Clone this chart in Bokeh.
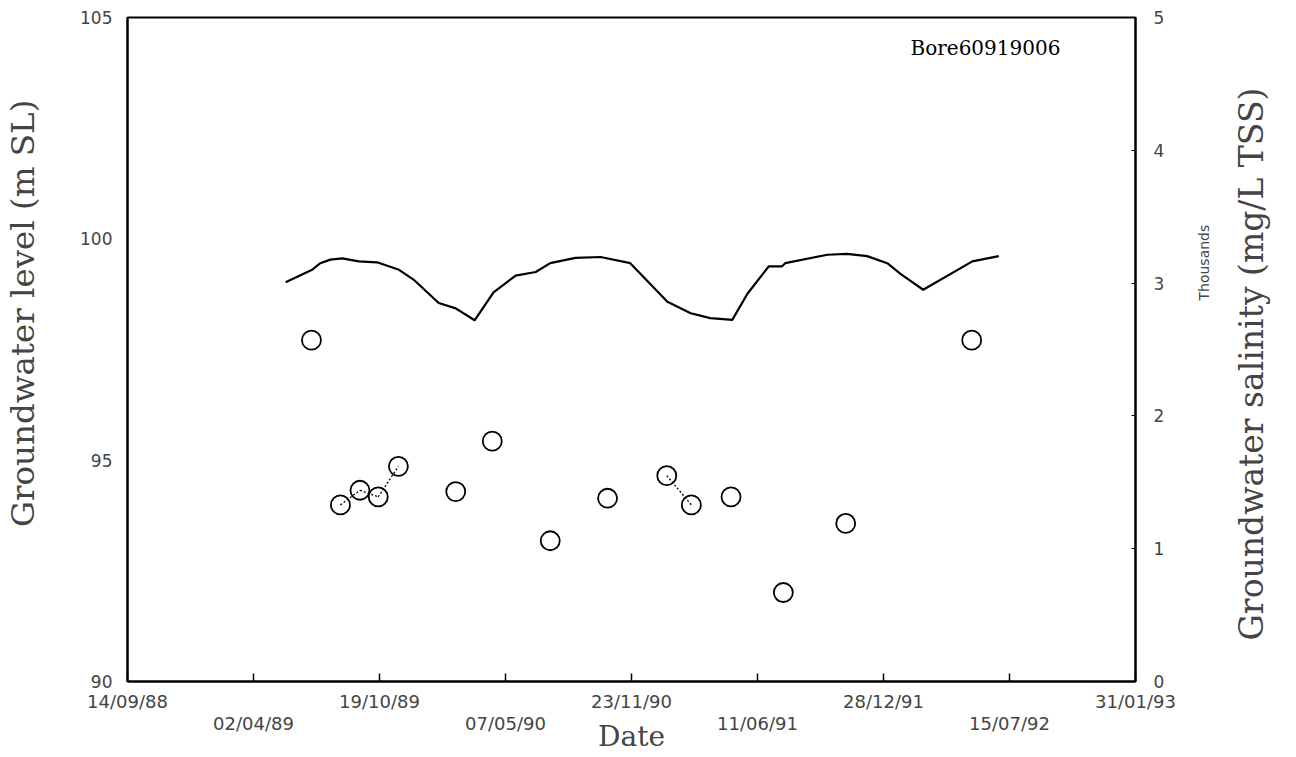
import pandas as pd
from math import pi
from bokeh.plotting import figure
from bokeh.models import Range1d, LinearAxis, FixedTicker, Label
from bokeh.embed import file_html
from bokeh.resources import INLINE

# ---------------- data ----------------
start_date = "1988-09-14"
tick_step_days = 200
n_ticks = 9

level_dates = [
    "1989-05-23", "1989-07-04", "1989-07-17", "1989-08-02", "1989-08-21",
    "1989-09-16", "1989-10-15", "1989-11-19", "1989-12-12", "1990-01-21",
    "1990-02-17", "1990-03-19", "1990-04-18", "1990-05-23", "1990-06-24",
    "1990-07-17", "1990-08-26", "1990-10-05", "1990-11-21", "1991-01-19",
    "1991-02-25", "1991-03-28", "1991-05-02", "1991-05-26", "1991-06-29",
    "1991-07-20", "1991-07-25", "1991-09-30", "1991-10-31", "1991-12-02",
    "1992-01-03", "1992-01-24", "1992-02-29", "1992-05-17", "1992-06-28",
]
level_values = [
    99.02, 99.30, 99.45, 99.53, 99.56,
    99.49, 99.47, 99.30, 99.08, 98.55,
    98.43, 98.16, 98.79, 99.17, 99.25,
    99.45, 99.57, 99.59, 99.45, 98.58,
    98.32, 98.21, 98.17, 98.76, 99.38,
    99.38, 99.45, 99.64, 99.66, 99.61,
    99.45, 99.21, 98.85, 99.49, 99.61,
]

salinity_dates = [
    "1989-07-03", "1989-08-18", "1989-09-18", "1989-10-17", "1989-11-18",
    "1990-02-17", "1990-04-16", "1990-07-17", "1990-10-16", "1991-01-18",
    "1991-02-26", "1991-04-30", "1991-07-22", "1991-10-29", "1992-05-16",
]
salinity_thousands = [
    2.57, 1.33, 1.44, 1.39, 1.62,
    1.43, 1.81, 1.06, 1.38, 1.55,
    1.33, 1.39, 0.67, 1.19, 2.57,
]
connect_max_gap_days = 42

left_ticks = [90, 95, 100, 105]
right_ticks = [0, 1, 2, 3, 4, 5]

left_title = "Groundwater level (m SL)"
right_title = "Groundwater salinity (mg/L TSS)"
right_units = "Thousands"
x_title = "Date"
bore_name = "Bore60919006"

# ---------------- derived ----------------
t0 = pd.Timestamp(start_date)
lx = list((pd.to_datetime(level_dates) - t0).days)
sx = list((pd.to_datetime(salinity_dates) - t0).days)
tick_days = [i * tick_step_days for i in range(n_ticks)]
tick_labels = [(t0 + pd.Timedelta(days=d)).strftime("%d/%m/%y") for d in tick_days]
x_end = tick_days[-1]

W, H = 1296, 757
BL, BR, BT, BB = 127, 161, 17, 76
FW, FH = W - BL - BR, H - BT - BB


def cx(px):
    return (px - BL) / FW * x_end


def cy(py):
    return left_ticks[-1] - (py - BT) / FH * (left_ticks[-1] - left_ticks[0])


def cy_sal(py):
    return right_ticks[-1] - (py - BT) / FH * (right_ticks[-1] - right_ticks[0])


p = figure(width=W, height=H, x_range=Range1d(0, x_end),
           y_range=Range1d(left_ticks[0], left_ticks[-1]),
           output_backend="svg", toolbar_location=None,
           x_axis_location=None, y_axis_location=None,
           min_border_left=BL, min_border_right=BR,
           min_border_top=BT, min_border_bottom=BB)
p.extra_y_ranges = {"sal": Range1d(right_ticks[0], right_ticks[-1])}
p.grid.visible = False
p.outline_line_color = "black"
p.outline_line_width = 2
p.background_fill_color = "white"
p.border_fill_color = "white"

tick_font = "DejaVu Sans"
serif = "DejaVu Serif"


def blank_axis(**kw):
    return LinearAxis(major_tick_in=0, major_tick_out=0, minor_tick_in=0,
                      minor_tick_out=0, axis_line_color=None, **kw)


# leading no-break spaces lift the (bottom-to-top) title above the frame centre
left = LinearAxis(ticker=FixedTicker(ticks=left_ticks),
                  axis_label="\u00a0" * 7 + left_title,
                  axis_label_text_font=serif, axis_label_text_font_size="32.5px",
                  axis_label_text_font_style="normal", axis_label_standoff=35,
                  major_label_text_font=tick_font, major_label_text_font_size="17px",
                  major_label_standoff=15, major_tick_in=0, major_tick_out=0,
                  minor_tick_in=0, minor_tick_out=0,
                  axis_line_width=2, axis_line_color="black")
p.add_layout(left, "left")

right = LinearAxis(y_range_name="sal", ticker=FixedTicker(ticks=right_ticks),
                   major_label_text_font=tick_font, major_label_text_font_size="17px",
                   major_label_standoff=18, major_tick_in=4, major_tick_out=0,
                   minor_tick_in=0, minor_tick_out=0,
                   axis_line_width=2, axis_line_color="black")
p.add_layout(right, "right")

# rotated right-hand texts drawn as single tick labels (anchored at text start)
y_th = cy_sal(300)
right_u = blank_axis(y_range_name="sal", ticker=FixedTicker(ticks=[y_th]),
                     major_label_overrides={y_th: right_units},
                     major_label_orientation=pi / 2, major_label_standoff=36,
                     major_label_text_font=tick_font, major_label_text_font_size="14px")
p.add_layout(right_u, "right")

y_rt = cy_sal(640)
right_t = blank_axis(y_range_name="sal", ticker=FixedTicker(ticks=[y_rt]),
                     major_label_overrides={y_rt: right_title},
                     major_label_orientation=pi / 2, major_label_standoff=29,
                     major_label_text_font=serif, major_label_text_font_size="33px")
p.add_layout(right_t, "right")

over1 = {d: (lab if i % 2 == 0 else "") for i, (d, lab) in enumerate(zip(tick_days, tick_labels))}
bottom1 = LinearAxis(ticker=FixedTicker(ticks=tick_days), major_label_overrides=over1,
                     major_label_text_font=tick_font, major_label_text_font_size="18px",
                     major_label_standoff=9, major_tick_in=8, major_tick_out=0,
                     major_tick_line_width=1.5,
                     minor_tick_in=0, minor_tick_out=0,
                     axis_line_width=2, axis_line_color="black")
p.add_layout(bottom1, "below")

odd_days = [d for i, d in enumerate(tick_days) if i % 2 == 1]
over2 = {d: lab for i, (d, lab) in enumerate(zip(tick_days, tick_labels)) if i % 2 == 1}
bottom2 = blank_axis(ticker=FixedTicker(ticks=odd_days), major_label_overrides=over2,
                     major_label_text_font=tick_font, major_label_text_font_size="18px",
                     major_label_standoff=-2,
                     axis_label=x_title, axis_label_text_font=serif,
                     axis_label_text_font_size="28px", axis_label_text_font_style="normal",
                     axis_label_standoff=-17)
p.add_layout(bottom2, "below")

# groundwater level line
p.line(lx, level_values, line_color="black", line_width=2.2)

# connectors between consecutive salinity samples
x0, y0, x1, y1 = [], [], [], []
for i in range(len(sx) - 1):
    if sx[i + 1] - sx[i] <= connect_max_gap_days:
        x0.append(sx[i]); y0.append(salinity_thousands[i])
        x1.append(sx[i + 1]); y1.append(salinity_thousands[i + 1])
p.segment(x0, y0, x1, y1, y_range_name="sal", line_color="black",
          line_width=1.3, line_dash="2 2")

p.scatter(sx, salinity_thousands, y_range_name="sal", size=19, marker="circle",
          fill_color=None, line_color="black", line_width=1.8)

p.add_layout(Label(x=cx(910), y=cy(47), text=bore_name, text_font=serif,
                   text_font_size="20px", text_baseline="middle", text_align="left",
                   text_color="black"))

open("out.html", "w").write(file_html(p, INLINE))
